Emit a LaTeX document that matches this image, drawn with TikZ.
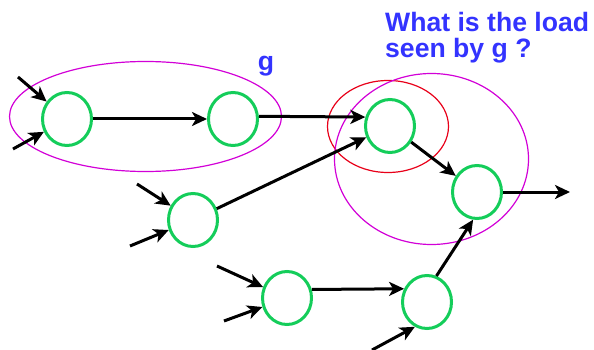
\documentclass[tikz,border=0pt]{standalone}
\usepackage{fontspec}
\setmainfont{Liberation Sans}
\usetikzlibrary{arrows.meta,shapes.geometric}

\definecolor{gatecol}{RGB}{20,205,90}
\definecolor{groupcol}{RGB}{210,0,215}
\definecolor{fanoutcol}{RGB}{232,0,25}
\definecolor{labelcol}{RGB}{51,51,255}

\tikzset{
  gate/.style={draw=gatecol, line width=3pt, ellipse, minimum width=49pt, minimum height=53pt, inner sep=0pt},
  wire/.style={line width=3pt, -{Stealth[length=15pt,width=14pt,inset=4pt]}},
  cluster/.style={line width=1.2pt},
  caption/.style={text=labelcol, font=\fontsize{26.6}{26.6}\selectfont\bfseries, inner sep=0pt}
}

\begin{document}
\begin{tikzpicture}[x=1pt,y=-1pt]
  \useasboundingbox (0,0) rectangle (594,350);

  % grouping ellipses
  \draw[cluster, groupcol] (145.5,116.5) ellipse [x radius=136, y radius=55];
  \draw[cluster, fanoutcol] (388,126.5) ellipse [x radius=60.5, y radius=46];
  \draw[cluster, groupcol] (431.5,159) ellipse [x radius=97, y radius=85.5];

  % gates
  \node[gate] (n1) at (67,119) {};
  \node[gate] (n2) at (233,119) {};
  \node[gate] (n3) at (390,126) {};
  \node[gate] (n4) at (477,192) {};
  \node[gate] (n5) at (193,220) {};
  \node[gate] (n6) at (287,298) {};
  \node[gate] (n7) at (427,302) {};

  % free ends of input and output wires
  \coordinate (i1a) at (18,77);
  \coordinate (i1b) at (13,149);
  \coordinate (i5a) at (137,184);
  \coordinate (i5b) at (130,246);
  \coordinate (i6a) at (217,266);
  \coordinate (i6b) at (224,321);
  \coordinate (i7)  at (372,350);
  \coordinate (out) at (570,192);

  % wires
  \draw[wire] (i1a) -- (n1);
  \draw[wire] (i1b) -- (n1);
  \draw[wire] (n1) -- (n2);
  \draw[wire] (n2.6) -- (n3.160);
  \draw[wire] (n3) -- (n4);
  \draw[wire] (n4) -- (out);
  \draw[wire] (i5a) -- (n5);
  \draw[wire] (i5b) -- (n5);
  \draw[wire] (n5) -- (n3);
  \draw[wire] (i6a) -- (n6);
  \draw[wire] (i6b) -- (n6);
  \draw[wire] (n6.19) -- (n7.150);
  \draw[wire] (n7.70) -- (n4.262);
  \draw[wire] (i7) -- (n7.244);

  % labels
  \node[caption, anchor=base] (glabel) at (266,71) {g};
  \node[caption, anchor=base west] (q1) at (385,32) {What is the load};
  \node[caption, anchor=base west] (q2) at (385,58) {seen by g ?};
\end{tikzpicture}
\end{document}
